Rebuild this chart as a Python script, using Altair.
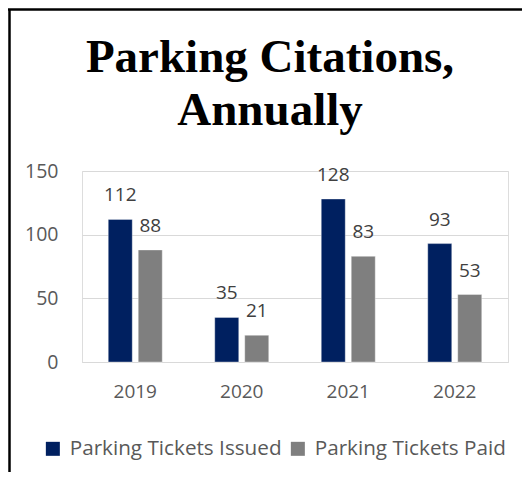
import altair as alt
import pandas as pd

years = ["2019", "2020", "2021", "2022"]
series = ["Parking Tickets Issued", "Parking Tickets Paid"]
issued = [112, 35, 128, 93]
paid = [88, 21, 83, 53]
colors = ["#002060", "#7F7F7F"]
y_ticks = [0, 50, 100, 150]

rows = []
for i, y in enumerate(years):
    rows.append({"year": y, "series": series[0], "value": issued[i]})
    rows.append({"year": y, "series": series[1], "value": paid[i]})
df = pd.DataFrame(rows)

FONT = "Open Sans"
W, H = 426, 191

x_enc = alt.X("year:N", sort=years,
              scale=alt.Scale(paddingInner=0.493, paddingOuter=0.2465),
              axis=alt.Axis(title=None, labelAngle=0, ticks=False, domain=True,
                            domainColor="#D9D9D9", labelFontSize=19,
                            labelColor="#595959", labelFont=FONT, labelPadding=20))
xo_enc = alt.XOffset("series:N", sort=series,
                     scale=alt.Scale(paddingInner=0.2, paddingOuter=0))
y_enc = alt.Y("value:Q", scale=alt.Scale(domain=[0, 150], nice=False),
              axis=alt.Axis(title=None, values=y_ticks, ticks=False, domain=False,
                            gridColor="#D9D9D9", labelFontSize=19.5, labelColor="#595959",
                            labelFont=FONT, labelPadding=24))

base = alt.Chart(df)

bars = base.mark_bar(stroke="#FFFFFF", strokeWidth=0.6, strokeOpacity=0.6).encode(
    x=x_enc, xOffset=xo_enc, y=y_enc,
    color=alt.Color("series:N", sort=series,
                    scale=alt.Scale(domain=series, range=colors),
                    legend=alt.Legend(title=None, orient="none", direction="horizontal",
                                      legendX=-39.5, legendY=267, symbolType="square",
                                      symbolSize=196, symbolStrokeWidth=0,
                                      labelFontSize=20.7, labelFont=FONT,
                                      labelColor="#595959", labelOffset=6.5,
                                      columnPadding=5, labelLimit=400)),
)

labels = base.mark_text(fontSize=19, font=FONT, color="#404040",
                        baseline="alphabetic", dy=-18).encode(
    x=alt.X("year:N", sort=years), xOffset=alt.XOffset("series:N", sort=series),
    y="value:Q", text="value:Q",
)

border_data = alt.Data(values=[{"k": 1}])
left_border = alt.Chart(border_data).mark_rule(color="#000000", strokeWidth=2.5).encode(
    x=alt.value(-72.5), y=alt.value(-162), y2=alt.value(310))
top_border = alt.Chart(border_data).mark_rule(color="#000000", strokeWidth=2.5).encode(
    y=alt.value(-161.5), x=alt.value(-74), x2=alt.value(445))

chart = alt.layer(bars, labels, left_border, top_border).properties(
    width=W, height=H,
    title=alt.TitleParams(["Parking Citations,", "Annually"], font="Liberation Serif",
                          fontSize=47, fontWeight="bold", color="#000000",
                          anchor="middle", frame="group", lineHeight=53,
                          offset=10, dx=-25, dy=137),
    autosize=alt.AutoSizeParams(type="none"),
    padding={"left": 74, "top": 163, "right": 14, "bottom": 110},
).configure_view(stroke=None).configure(background="#FFFFFF")

chart.save("out.html", embed_options={"renderer": "svg", "actions": False})
